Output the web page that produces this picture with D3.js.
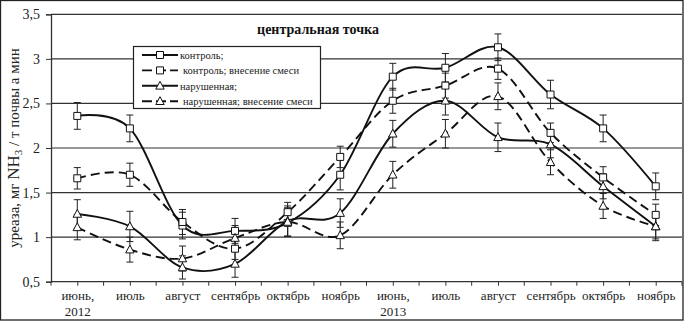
<!DOCTYPE html>
<html>
<head>
<meta charset="utf-8">
<script src="https://cdn.jsdelivr.net/npm/d3@7"></script>
<style>
  body { margin: 0; background: #fff; }
  svg { display: block; font-family: "Liberation Serif", "Times New Roman", serif; }
  .grid line { stroke: #333; stroke-width: 1.2; }
</style>
</head>
<body>
<svg class="rootSvg" width="685" height="322"></svg>
<script>
// month labels (two lines on the axis)
var months = ['июнь,', 'июль', 'август', 'сентябрь', 'октябрь', 'ноябрь',
              'июнь,', 'июль', 'август', 'сентябрь', 'октябрь', 'ноябрь'];
var years = ['2012', '', '', '', '', '', '2013', '', '', '', '', ''];
var yTicks = [0.5, 1, 1.5, 2, 2.5, 3, 3.5];

// values
var kontrol      = [2.36, 2.22, 1.13, 1.07, 1.16, 1.70, 2.80, 2.90, 3.13, 2.60, 2.22, 1.57];
var kontrolErr   = [0.15, 0.15, 0.15, 0.14, 0.15, 0.17, 0.15, 0.16, 0.15, 0.16, 0.15, 0.15];
var kontrolMix   = [1.66, 1.70, 1.17, 0.87, 1.28, 1.90, 2.53, 2.70, 2.89, 2.17, 1.67, 1.25];
var kontrolMixErr= [0.12, 0.13, 0.14, 0.12, 0.11, 0.12, 0.14, 0.14, 0.12, 0.11, 0.12, 0.12];
var narush       = [1.26, 1.12, 0.66, 0.70, 1.18, 1.27, 2.16, 2.53, 2.12, 2.04, 1.57, 1.12];
var narushErr    = [0.16, 0.17, 0.13, 0.15, 0.17, 0.16, 0.15, 0.16, 0.16, 0.15, 0.14, 0.16];
var narushMix    = [1.11, 0.86, 0.76, 0.99, 1.17, 1.02, 1.70, 2.16, 2.58, 1.84, 1.35, 1.12];
var narushMixErr = [0.14, 0.14, 0.14, 0.14, 0.16, 0.15, 0.15, 0.16, 0.15, 0.14, 0.14, 0.14];

var seriesNames = ['контроль;', 'контроль; внесение смеси', 'нарушенная;', 'нарушенная; внесение смеси'];

var series = [
    { name: seriesNames[0], values: kontrol,    err: kontrolErr,    dash: null,  marker: 'square' },
    { name: seriesNames[1], values: kontrolMix, err: kontrolMixErr, dash: '9,5', marker: 'square' },
    { name: seriesNames[2], values: narush,     err: narushErr,     dash: null,  marker: 'triangle' },
    { name: seriesNames[3], values: narushMix,  err: narushMixErr,  dash: '9,5', marker: 'triangle' }
];

// plot area (window.top is reserved, hence the prefix)
var plotLeft = 51, plotRight = 682, plotTop = 14.3, plotBottom = 281.7;

var svg = d3.select('.rootSvg');

var x = d3.scalePoint()
    .domain(d3.range(months.length))
    .range([plotLeft, plotRight])
    .padding(0.5);

var y = d3.scaleLinear()
    .domain([0.5, 3.5])
    .range([plotBottom, plotTop]);

// outer frame
svg.append('rect')
    .attr('x', 0.5).attr('y', 0.5)
    .attr('width', 682.5).attr('height', 319.5)
    .attr('fill', 'none')
    .attr('stroke', '#222')
    .attr('stroke-width', 1.3);

// horizontal grid
svg.append('g')
    .attr('class', 'grid')
    .selectAll('line')
    .data(yTicks.slice(1))
    .enter()
    .append('line')
        .attr('x1', plotLeft)
        .attr('x2', plotRight)
        .attr('y1', function (d) { return y(d); })
        .attr('y2', function (d) { return y(d); });

// y axis
var yAxis = d3.axisLeft(y)
    .tickValues(yTicks)
    .tickSize(5)
    .tickPadding(6)
    .tickFormat(function (d) { return String(d).replace('.', ','); });

var gy = svg.append('g')
    .attr('transform', 'translate(' + plotLeft + ',0)')
    .call(yAxis);
gy.select('.domain').attr('stroke', '#333').attr('stroke-width', 1.3);
gy.selectAll('.tick line').attr('stroke', '#333');
gy.selectAll('text')
    .attr('font-family', '"Liberation Serif", serif')
    .attr('font-size', 14)
    .attr('fill', '#222');

// x axis
var xAxis = d3.axisBottom(x)
    .tickSize(4)
    .tickFormat('');

var gx = svg.append('g')
    .attr('transform', 'translate(0,' + plotBottom + ')')
    .call(xAxis);
gx.select('.domain').attr('stroke', '#333').attr('stroke-width', 1.3).attr('d', 'M' + plotLeft + ',0H' + plotRight);
gx.selectAll('.tick line').attr('stroke', '#333');

// ticks on category boundaries
gx.selectAll('.bound')
    .data(d3.range(months.length + 1))
    .enter()
    .append('line')
        .attr('class', 'bound')
        .attr('x1', function (d) { return plotLeft + d * x.step(); })
        .attr('x2', function (d) { return plotLeft + d * x.step(); })
        .attr('y1', 0)
        .attr('y2', 4)
        .attr('stroke', '#333');

var labels = gx.selectAll('.tick')
    .append('text')
        .attr('fill', '#222')
        .attr('font-family', '"Liberation Serif", serif')
        .attr('font-size', 13)
        .attr('text-anchor', 'middle');

labels.append('tspan')
    .attr('x', 0)
    .attr('y', 18)
    .text(function (d) { return months[d]; });

labels.append('tspan')
    .attr('x', 0)
    .attr('y', 34)
    .text(function (d) { return years[d]; });

// y title
var yTitle = svg.append('text')
    .attr('transform', 'translate(19,148) rotate(-90)')
    .attr('text-anchor', 'middle')
    .attr('font-size', 15)
    .attr('fill', '#222');
yTitle.append('tspan').text('уреаза, мг ');
yTitle.append('tspan').attr('font-size', 17).text('NH');
yTitle.append('tspan').attr('font-size', 11).attr('dy', 3).text('3');
yTitle.append('tspan').attr('dy', -3).text(' / т почвы а мин');

// chart title
svg.append('text')
    .attr('x', 318)
    .attr('y', 34)
    .attr('text-anchor', 'middle')
    .attr('font-size', 14)
    .attr('font-weight', 'bold')
    .attr('fill', '#111')
    .text('центральная точка');

// lines
var line = d3.line()
    .x(function (d, i) { return x(i); })
    .y(function (d) { return y(d); })
    .curve(d3.curveCardinal.tension(0));

var plot = svg.append('g');

plot.selectAll('.link')
    .data(series)
    .enter()
    .append('path')
        .attr('class', 'link')
        .attr('d', function (s) { return line(s.values); })
        .attr('fill', 'none')
        .attr('stroke', '#111')
        .attr('stroke-width', 1.9)
        .attr('stroke-dasharray', function (s) { return s.dash; });

// error bars
var bars = [];
series.forEach(function (s) {
    s.values.forEach(function (v, i) {
        bars.push({ i: i, v: v, e: s.err[i] });
    });
});

var eb = plot.selectAll('.err')
    .data(bars)
    .enter()
    .append('g')
        .attr('class', 'err')
        .attr('stroke', '#222')
        .attr('stroke-width', 1);

eb.append('line')
    .attr('x1', function (d) { return x(d.i); })
    .attr('x2', function (d) { return x(d.i); })
    .attr('y1', function (d) { return y(d.v - d.e); })
    .attr('y2', function (d) { return y(d.v + d.e); });

eb.append('line')
    .attr('x1', function (d) { return x(d.i) - 3.5; })
    .attr('x2', function (d) { return x(d.i) + 3.5; })
    .attr('y1', function (d) { return y(d.v + d.e); })
    .attr('y2', function (d) { return y(d.v + d.e); });

eb.append('line')
    .attr('x1', function (d) { return x(d.i) - 3.5; })
    .attr('x2', function (d) { return x(d.i) + 3.5; })
    .attr('y1', function (d) { return y(d.v - d.e); })
    .attr('y2', function (d) { return y(d.v - d.e); });

// markers
function markerPath(type) {
    if (type === 'square') {
        return 'M-3.5,-3.5H3.5V3.5H-3.5Z';
    }
    return 'M0,-4.5L4.2,3.3H-4.2Z';
}

series.forEach(function (s) {
    plot.selectAll(null)
        .data(s.values)
        .enter()
        .append('path')
            .attr('transform', function (d, i) { return 'translate(' + x(i) + ',' + y(d) + ')'; })
            .attr('d', markerPath(s.marker))
            .attr('fill', '#fff')
            .attr('stroke', '#111')
            .attr('stroke-width', 1);
});

// legend
var legend = svg.append('g');
legend.append('rect')
    .attr('x', 133.5).attr('y', 46.5)
    .attr('width', 187).attr('height', 62)
    .attr('fill', '#fff')
    .attr('stroke', '#222')
    .attr('stroke-width', 1.2);

var row = legend.selectAll('.row')
    .data(series)
    .enter()
    .append('g')
        .attr('class', 'row')
        .attr('transform', function (d, i) { return 'translate(0,' + (55 + i * 15.4) + ')'; });

row.append('line')
    .attr('x1', 142).attr('x2', 178)
    .attr('y1', 0).attr('y2', 0)
    .attr('stroke', '#111')
    .attr('stroke-width', 1.9)
    .attr('stroke-dasharray', function (s) { return s.dash ? '10,4' : null; });

row.append('path')
    .attr('transform', 'translate(160,0)')
    .attr('d', function (s) { return markerPath(s.marker); })
    .attr('fill', '#fff')
    .attr('stroke', '#111');

row.append('text')
    .attr('x', function (s, i) { return i % 2 ? 183 : 180; })
    .attr('y', 4)
    .attr('font-size', 10.5)
    .attr('fill', '#222')
    .text(function (s) { return s.name; });
</script>
</body>
</html>
